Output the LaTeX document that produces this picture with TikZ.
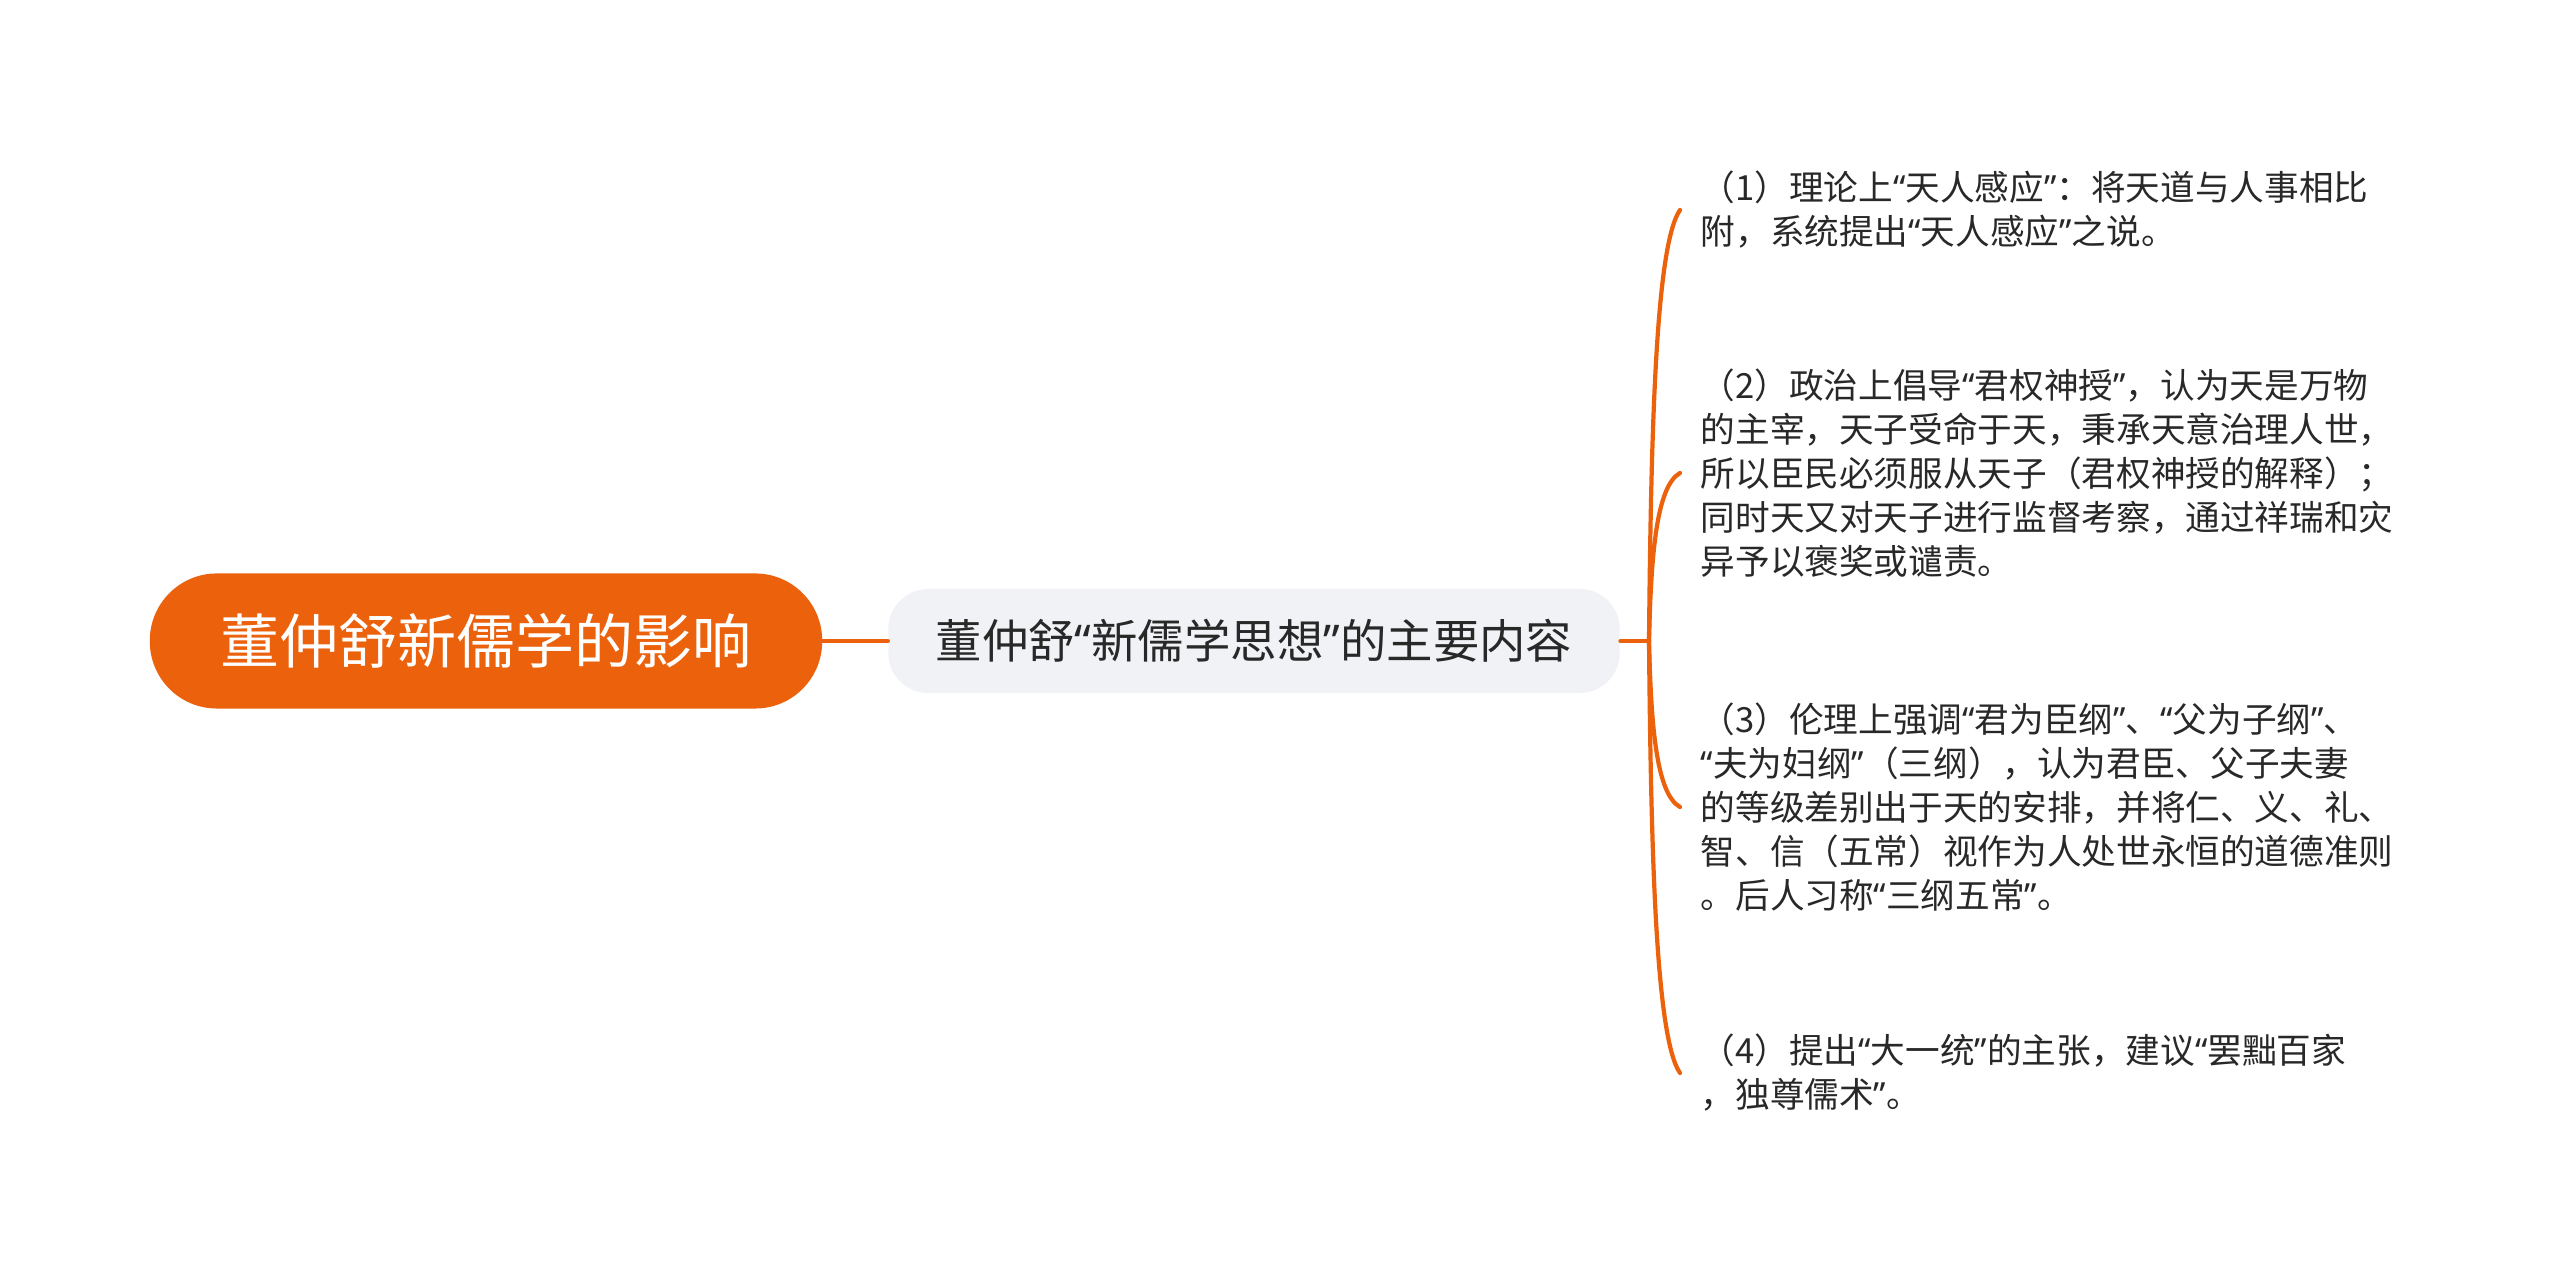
\documentclass[tikz,border=0pt]{standalone}
\usepackage{fontspec}
\setmainfont{Noto Sans CJK SC}
\newfontfamily\yinfont{Noto Sans}
\newcommand{\yin}[1]{{\yinfont “}#1{\yinfont ”}}
\definecolor{zhuse}{RGB}{235,97,12}
\definecolor{huise}{RGB}{240,242,245}
\definecolor{wenzi}{RGB}{40,40,40}
\tikzset{
  rootbox/.style={fill=zhuse, text=white, rounded corners=0.67cm,
    minimum width=6.72cm, minimum height=1.35cm, inner sep=0pt,
    font=\fontsize{16.8pt}{20pt}\selectfont},
  midbox/.style={fill=huise, text=wenzi, rounded corners=0.4cm,
    minimum width=7.31cm, minimum height=1.04cm, inner sep=0pt,
    font=\fontsize{13.2pt}{16pt}\selectfont},
  leaf/.style={anchor=west, align=left, inner sep=0pt, text=wenzi,
    font=\fontsize{9.85pt}{12.5pt}\selectfont},
  branch/.style={draw=zhuse, line width=1.2pt, line cap=round}
}
\begin{document}
\begin{tikzpicture}[x=0.01cm,y=-0.01cm]
\useasboundingbox (0,0) rectangle (2560,1283);
\coordinate (r) at (486,641);
\coordinate (m) at (1254,641);
\coordinate (s) at (1649,641);
\node[rootbox] (root) at (r) {董仲舒新儒学的影响};
\node[midbox] (mid) at (m) {董仲舒\yin{新儒学思想}的主要内容};
\node[leaf] (p1) at (1700,210) {（1）理论上\yin{天人感应}：将天道与人事相比\\附，系统提出\yin{天人感应}之说。};
\node[leaf] (p2) at (1700,473) {（2）政治上倡导\yin{君权神授}，认为天是万物\\的主宰，天子受命于天，秉承天意治理人世，\\所以臣民必须服从天子（君权神授的解释）；\\同时天又对天子进行监督考察，通过祥瑞和灾\\异予以褒奖或谴责。};
\node[leaf] (p3) at (1700,807) {（3）伦理上强调\yin{君为臣纲}、\yin{父为子纲}、\\\yin{夫为妇纲}（三纲），认为君臣、父子夫妻\\的等级差别出于天的安排，并将仁、义、礼、\\智、信（五常）视作为人处世永恒的道德准则\\。后人习称\yin{三纲五常}。};
\node[leaf] (p4) at (1700,1073) {（4）提出\yin{大一统}的主张，建议{\yinfont “}罢黜百家\\，独尊儒术{\yinfont ”}。};
% connectors
\draw[branch, line width=1.4pt] (root) -- (mid);
\draw[branch] (mid.east) -- (s);
\foreach \i/\y in {1/210, 2/473, 3/807, 4/1073}{
  \coordinate (e\i) at ([xshift=-0.2cm]p\i.west);
  \draw[branch] (s) .. controls (1651,{641+(\y-641)*0.5}) and (1656,{\y+(641-\y)*0.08}) .. (e\i);
}
\end{tikzpicture}
\end{document}
